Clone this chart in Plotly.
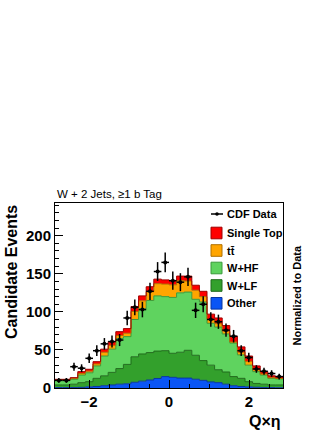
import numpy as np
import plotly.graph_objects as go

# Q x eta binning: 30 bins across the frame
n_bins = 30
q_lo, q_hi = -2.85, 2.85
bin_edges = np.linspace(q_lo, q_hi, n_bins + 1)
bin_centers = 0.5 * (bin_edges[:-1] + bin_edges[1:])

# stacked components (events per bin), bottom to top
other = [0.5, 0.5, 0.5, 0.8, 1.5, 2, 3, 4, 5, 5.5, 7.5, 9, 10.5, 12.5, 15,
         14, 13, 13, 11.5, 10, 8, 7, 5, 3, 2, 1.5, 1, 0.5, 0.5, 0.3]
w_lf = [3.5, 3.5, 4.5, 6.2, 6.8, 10.7, 13, 16.5, 20.5, 25.5, 33.5, 35.7, 36, 36, 34,
        31.6, 34, 36.5, 31.5, 26, 22, 17, 16, 12, 10.7, 6.8, 5, 4.5, 3.5, 3.7]
w_hf = [6, 6, 6.4, 10, 11.7, 16.3, 26, 30.5, 39.5, 36.5, 49, 59.3, 68.5, 72.5, 71,
        73.4, 78, 76.5, 73.5, 77, 55, 56, 50, 44, 30.8, 21.7, 15.5, 12, 8.7, 8]
ttbar = [0.6, 0.6, 1.2, 2, 2.1, 2.6, 5, 5, 4, 4.5, 10.5, 10.5, 11.5, 16, 16.5,
         16.5, 16, 14.5, 12, 7, 5, 4.5, 3.5, 1.5, 3.5, 5, 2.5, 1.5, 0.8, 0.5]
single_top = [0.8, 0.8, 1, 2.5, 2.5, 3, 4, 5, 5, 6, 6.5, 6.5, 6.5, 6, 5.5,
              5.5, 6, 6.5, 6.5, 7, 7, 7.5, 7.5, 7.5, 7, 7, 5, 3, 2.5, 2.5]

# CDF data
cdf_data = [10, 10, 28, 26, 39, 49, 58, 61, 63, 92, 106, 103, 127, 153, 165,
            141, 139, 146, 102, 110, 90, 87, 76, 68, 49, 40, 25, 22, 19, 15]

components = [
    ("Other", other, "#0a55f5", "#0836a0"),
    ("W+LF", w_lf, "#33a02c", "#1f6b1b"),
    ("W+HF", w_hf, "#5fd35f", "#3a9a3a"),
    ("ttbar", ttbar, "#ffa500", "#b07000"),
    ("Single Top", single_top, "#ff0000", "#a00000"),
]

font_family = "Liberation Sans, Arial, sans-serif"

fig = go.Figure()

cumulative = np.zeros(n_bins)
for i, (name, values, fill_color, line_color) in enumerate(components):
    cumulative = cumulative + np.array(values)
    fig.add_trace(go.Scatter(
        x=bin_edges,
        y=np.append(cumulative, cumulative[-1]),
        mode="lines",
        line=dict(shape="hv", color=line_color, width=1),
        fill="tozeroy" if i == 0 else "tonexty",
        fillcolor=fill_color,
        name=name,
        showlegend=False,
        hoverinfo="skip",
    ))

fig.add_trace(go.Scatter(
    x=bin_centers,
    y=cdf_data,
    mode="markers",
    marker=dict(color="black", size=4),
    error_y=dict(type="data", array=np.sqrt(cdf_data), color="black", thickness=1.5, width=0),
    error_x=dict(type="constant", value=(q_hi - q_lo) / n_bins / 2, color="black", thickness=1.5, width=0),
    showlegend=False,
))


# legend drawn by hand, ROOT style (positions in frame pixels)
def px_x(px):
    return (px - 55) / 228.0


def px_y(py):
    return (388 - py) / 185.0


legend_font = dict(family=font_family, size=11, color="black", weight="bold")
shapes = []
annotations = []

# CDF Data entry
shapes.append(dict(type="line", xref="paper", yref="paper", x0=px_x(211), x1=px_x(223),
                   y0=px_y(214), y1=px_y(214), line=dict(color="black", width=1.5)))
shapes.append(dict(type="circle", xref="paper", yref="paper", x0=px_x(215.2), x1=px_x(218.8),
                   y0=px_y(212.2), y1=px_y(215.8), fillcolor="black", line=dict(color="black", width=0)))
annotations.append(dict(text="CDF Data", xref="paper", yref="paper", x=px_x(225), y=px_y(214),
                        xanchor="left", yanchor="middle", showarrow=False, font=legend_font))

legend_rows = [("Single Top", 233), ("ttbar", 250.5), ("W+HF", 268), ("W+LF", 285.5), ("Other", 303.3)]
comp_colors = {name: (fc, lc) for name, _, fc, lc in components}
for name, yc in legend_rows:
    fc, lc = comp_colors[name]
    shapes.append(dict(type="rect", xref="paper", yref="paper", x0=px_x(211), x1=px_x(222),
                       y0=px_y(yc + 5.8), y1=px_y(yc - 5.8), fillcolor=fc, line=dict(color=lc, width=1)))
    label = "tt\u0304" if name == "ttbar" else name
    annotations.append(dict(text=label, xref="paper", yref="paper", x=px_x(225), y=px_y(yc),
                            xanchor="left", yanchor="middle", showarrow=False, font=legend_font))

annotations += [
    dict(text="W + 2 Jets, \u22651 b Tag", xref="paper", yref="paper", x=0, y=1, yshift=1,
         xanchor="left", yanchor="bottom", showarrow=False,
         font=dict(family=font_family, size=11.5, color="black")),
    dict(text="Candidate Events", xref="paper", yref="paper", x=px_x(11), y=1,
         xanchor="center", yanchor="top", textangle=-90, showarrow=False,
         font=dict(family=font_family, size=16, color="black", weight="bold")),
    dict(text="Q\u00d7\u03b7", xref="paper", yref="paper", x=1, y=px_y(421),
         xanchor="right", yanchor="middle", showarrow=False,
         font=dict(family=font_family, size=16, color="black", weight="bold")),
    dict(text="Normalized to Data", xref="paper", yref="paper", x=px_x(296), y=0.5,
         xanchor="center", yanchor="middle", textangle=-90, showarrow=False,
         font=dict(family=font_family, size=11, color="black", weight="bold")),
]

fig.update_layout(
    width=332, height=430, autosize=False,
    margin=dict(l=55, r=49, t=203, b=42),
    paper_bgcolor="white", plot_bgcolor="white",
    showlegend=False,
    shapes=shapes, annotations=annotations,
)

tick_font = dict(family=font_family, size=15, color="black", weight="bold")
fig.update_xaxes(range=[q_lo, q_hi], showgrid=False, zeroline=False,
                 showline=True, mirror=True, linecolor="black", linewidth=1,
                 ticks="inside", tickvals=[-2, 0, 2], ticklen=8, tickcolor="black",
                 minor=dict(ticks="inside", dtick=0.5, tick0=0, ticklen=4, tickcolor="black", showgrid=False),
                 tickfont=tick_font)
fig.update_yaxes(range=[0, 243], showgrid=False, zeroline=False,
                 showline=True, mirror=True, linecolor="black", linewidth=1,
                 ticks="inside", dtick=50, ticklen=8, tickcolor="black",
                 minor=dict(ticks="inside", dtick=10, ticklen=4, tickcolor="black", showgrid=False),
                 tickfont=tick_font)

# drop the default page margin so the figure sits at the window corner
fig.write_html("out.html", config={"displayModeBar": False},
               post_script="document.body.style.margin='0';")
